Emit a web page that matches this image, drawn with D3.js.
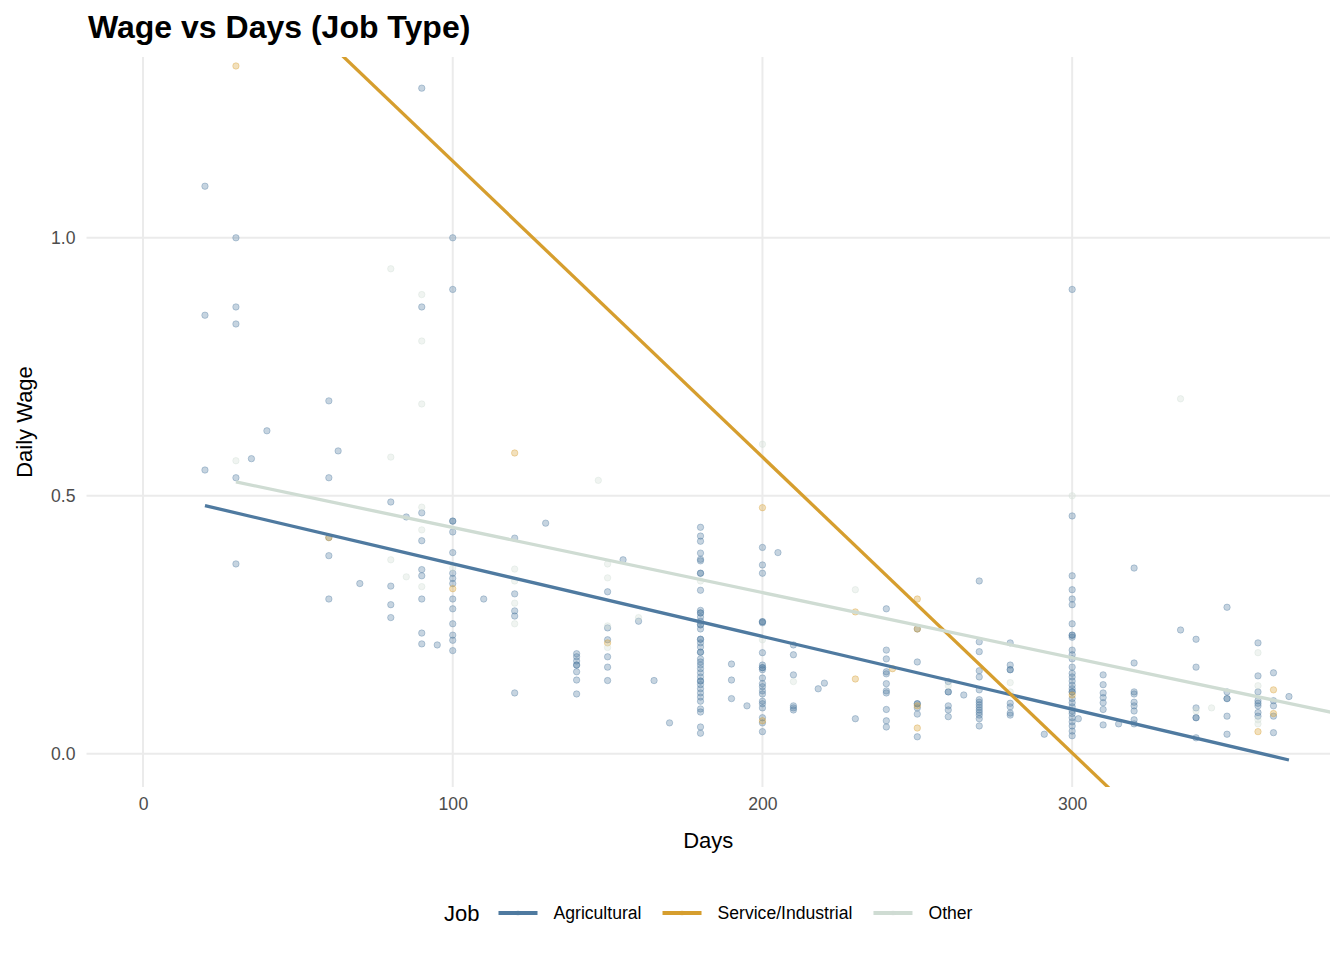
<!DOCTYPE html>
<html>
<head>
<meta charset="utf-8">
<script src="https://cdn.jsdelivr.net/npm/d3@7"></script>
<style>
  body { margin: 0; background: #fff; }
  svg { font-family: "Liberation Sans", Arial, sans-serif; }
</style>
</head>
<body>
<svg id="chart" width="1344" height="960"></svg>
<script>
// job groups, in legend order
const jobs = ["Agricultural", "Service/Industrial", "Other"];
const jobColors = ["#4f7aa0", "#d69e2e", "#cfdcd3"];

// [days, daily wage]
const agriPoints = [
  [90,1.29],[20,1.10],[30,1.0],[100,1.0],[20,0.85],[30,0.866],[30,0.833],[100,0.9],[300,0.9],[90,0.866],
  [40,0.626],[60,0.684],[63,0.587],[20,0.55],[35,0.572],[60,0.535],[30,0.535],[300,0.461],
  [80,0.488],[85,0.459],[90,0.467],[100,0.451],[100,0.451],[100,0.43],[90,0.413],[60,0.419],[100,0.39],
  [60,0.384],[30,0.368],[100,0.35],[100,0.34],[100,0.33],[70,0.33],[80,0.325],[90,0.357],[90,0.345],
  [60,0.30],[90,0.30],[100,0.30],[100,0.281],[80,0.289],[80,0.264],[100,0.252],[90,0.234],[100,0.23],
  [100,0.22],[90,0.213],[95,0.211],[100,0.20],
  [130,0.447],[120,0.418],[110,0.30],[120,0.31],[120,0.277],[120,0.267],[120,0.118],
  [140,0.194],[140,0.188],[140,0.18],[140,0.172],[140,0.172],[140,0.159],[140,0.143],[140,0.116],
  [150,0.314],[155,0.376],[150,0.244],[150,0.221],[150,0.188],[150,0.168],[150,0.142],
  [160,0.257],[165,0.142],[170,0.06],
  [180,0.439],[180,0.422],[180,0.412],[180,0.389],[180,0.377],[180,0.374],[180,0.35],[180,0.35],
  [180,0.317],[180,0.278],[180,0.273],[180,0.273],[180,0.265],[180,0.257],[180,0.25],[180,0.25],
  [180,0.242],[180,0.222],[180,0.222],[180,0.215],[180,0.207],[180,0.197],[180,0.197],[180,0.184],
  [180,0.178],[180,0.172],[180,0.165],[180,0.157],[180,0.149],[180,0.141],[180,0.141],[180,0.134],
  [180,0.126],[180,0.118],[180,0.110],[180,0.102],[180,0.087],[180,0.081],[180,0.052],[180,0.040],
  [190,0.174],[190,0.143],[190,0.107],[195,0.093],
  [200,0.40],[200,0.366],[200,0.35],[200,0.256],[200,0.256],[200,0.254],[200,0.196],[200,0.172],
  [200,0.167],[200,0.167],[200,0.163],[200,0.147],[200,0.136],[200,0.13],[200,0.122],[200,0.116],
  [200,0.102],[200,0.097],[200,0.089],[200,0.07],[200,0.06],[200,0.043],
  [205,0.39],
  [210,0.211],[210,0.192],[210,0.153],[210,0.093],[210,0.089],[210,0.085],
  [218,0.126],[220,0.137],[230,0.068],
  [240,0.281],[240,0.201],[240,0.184],[240,0.159],[240,0.155],[240,0.136],[240,0.122],[240,0.118],
  [240,0.086],[240,0.064],[240,0.052],
  [250,0.242],[250,0.178],[250,0.097],[250,0.097],[250,0.089],[250,0.077],[250,0.033],
  [260,0.14],[260,0.12],[260,0.12],[260,0.093],[260,0.085],[260,0.072],[265,0.114],
  [270,0.335],[270,0.217],[270,0.198],[270,0.161],[270,0.149],[270,0.124],[270,0.105],[270,0.1],
  [270,0.095],[270,0.09],[270,0.085],[270,0.08],[270,0.075],[270,0.068],[270,0.054],
  [280,0.215],[280,0.172],[280,0.163],[280,0.163],[280,0.098],[280,0.091],[280,0.079],[280,0.075],
  [291,0.038],
  [300,0.345],[300,0.318],[300,0.30],[300,0.289],[300,0.252],[300,0.23],[300,0.23],[300,0.226],
  [300,0.201],[300,0.192],[300,0.184],[300,0.168],[300,0.156],[300,0.149],[300,0.141],[300,0.133],
  [300,0.126],[300,0.12],[300,0.12],[300,0.107],[300,0.099],[300,0.091],[300,0.083],[300,0.078],
  [300,0.07],[300,0.062],[300,0.054],[300,0.044],[300,0.035],
  [302,0.068],
  [310,0.153],[310,0.134],[310,0.118],[310,0.109],[310,0.099],[310,0.086],[310,0.056],[315,0.058],
  [320,0.36],[320,0.176],[320,0.12],[320,0.116],[320,0.1],[320,0.093],[320,0.083],[320,0.066],[320,0.058],
  [335,0.24],
  [340,0.222],[340,0.168],[340,0.089],[340,0.07],[340,0.07],[340,0.031],
  [350,0.284],[350,0.12],[350,0.107],[350,0.107],[350,0.073],[350,0.038],
  [360,0.215],[360,0.151],[360,0.12],[360,0.103],[360,0.098],[360,0.093],[360,0.08],[360,0.073],
  [365,0.157],[365,0.103],[365,0.093],[365,0.073],[365,0.041],
  [370,0.111]
];

const servicePoints = [
  [30,1.333],[120,0.583],[200,0.477],[60,0.419],[100,0.32],[150,0.215],[200,0.064],[230,0.275],
  [230,0.145],[242,0.165],[250,0.30],[250,0.242],[250,0.093],[250,0.05],[300,0.114],[360,0.043],
  [365,0.124],[365,0.078]
];

const otherPoints = [
  [80,0.94],[90,0.89],[90,0.80],[90,0.678],[30,0.568],[80,0.575],[147,0.53],[200,0.60],[335,0.688],
  [300,0.50],[90,0.478],[90,0.434],[80,0.376],[100,0.36],[85,0.343],[90,0.324],[120,0.358],
  [120,0.335],[120,0.292],[120,0.252],[150,0.368],[150,0.341],[150,0.248],[150,0.206],[160,0.264],
  [180,0.335],[200,0.221],[210,0.14],[230,0.318],[260,0.132],[280,0.138],[280,0.12],[340,0.083],
  [345,0.089],[360,0.196],[360,0.132],[360,0.066],[360,0.058]
];

// fitted lm lines, [start, end] as [days, wage]
const agriTrend = [[20,0.481],[370,-0.012]];
const serviceTrend = [[30,1.55],[365,-0.371]];
const otherTrend = [[30,0.527],[400,0.06]];

const xTicks = [0, 100, 200, 300];
const yTicks = [0.0, 0.5, 1.0];

const svg = d3.select('#chart');
const m = {left: 86.5, right: 1330, top: 57, bottom: 787};

const x = d3.scaleLinear().domain([-18.25, 383.25]).range([m.left, m.right]);
const y = d3.scaleLinear().domain([-0.0643, 1.3504]).range([m.bottom, m.top]);
const col = d3.scaleOrdinal().domain(jobs).range(jobColors);

svg.append('defs').append('clipPath').attr('id', 'panel')
  .append('rect')
  .attr('x', m.left).attr('y', m.top)
  .attr('width', m.right - m.left).attr('height', m.bottom - m.top);

// grid
const grid = svg.append('g');
grid.selectAll('line.gx')
  .data(xTicks)
  .enter()
  .append('line')
  .attr('x1', d => x(d)).attr('x2', d => x(d))
  .attr('y1', m.top).attr('y2', m.bottom)
  .attr('stroke', '#ebebeb').attr('stroke-width', 2);
grid.selectAll('line.gy')
  .data(yTicks)
  .enter()
  .append('line')
  .attr('x1', m.left).attr('x2', m.right)
  .attr('y1', d => y(d)).attr('y2', d => y(d))
  .attr('stroke', '#ebebeb').attr('stroke-width', 2);

// tick labels via axes, domain path and ticks hidden
const xAxis = svg.append('g')
  .attr('transform', `translate(0,${m.bottom})`)
  .call(d3.axisBottom(x).tickValues(xTicks).tickSize(0).tickPadding(11));
const yAxis = svg.append('g')
  .attr('transform', `translate(${m.left},0)`)
  .call(d3.axisLeft(y).tickValues(yTicks).tickFormat(d3.format('.1f')).tickSize(0).tickPadding(11));
[xAxis, yAxis].forEach(a => {
  a.select('.domain').remove();
  a.selectAll('text')
    .style('font-family', '"Liberation Sans", Arial, sans-serif')
    .style('font-size', '17.6px')
    .attr('fill', '#4d4d4d');
});

const plot = svg.append('g').attr('clip-path', 'url(#panel)');

const groups = [
  {job: 'Agricultural', pts: agriPoints, trend: agriTrend},
  {job: 'Service/Industrial', pts: servicePoints, trend: serviceTrend},
  {job: 'Other', pts: otherPoints, trend: otherTrend}
];

groups.forEach(g => {
  plot.append('g')
    .selectAll('circle')
    .data(g.pts)
    .enter()
    .append('circle')
    .attr('cx', d => x(d[0]))
    .attr('cy', d => y(d[1]))
    .attr('r', 3.2)
    .attr('fill', col(g.job))
    .attr('fill-opacity', 0.32)
    .attr('stroke', col(g.job))
    .attr('stroke-opacity', 0.35)
    .attr('stroke-width', 1);
});

const line = d3.line().x(d => x(d[0])).y(d => y(d[1]));
groups.forEach(g => {
  plot.append('path')
    .datum(g.trend)
    .attr('d', line)
    .attr('fill', 'none')
    .attr('stroke', col(g.job))
    .attr('stroke-width', 3.3);
});

// titles
svg.append('text')
  .attr('x', 88).attr('y', 38)
  .style('font-size', '32px').style('font-weight', 'bold')
  .attr('fill', '#000')
  .text('Wage vs Days (Job Type)');

svg.append('text')
  .attr('x', (m.left + m.right) / 2).attr('y', 848)
  .attr('text-anchor', 'middle')
  .style('font-size', '22px')
  .text('Days');

svg.append('text')
  .attr('transform', `translate(32,${(m.top + m.bottom) / 2}) rotate(-90)`)
  .attr('text-anchor', 'middle')
  .style('font-size', '22px')
  .text('Daily Wage');

// legend
const leg = svg.append('g');
const legY = 913;
const legTitle = leg.append('text')
  .attr('x', 0).attr('y', legY + 8)
  .style('font-size', '22px')
  .text('Job');
let cx = legTitle.node().getComputedTextLength() + 19;
jobs.forEach(j => {
  leg.append('line')
    .attr('x1', cx).attr('x2', cx + 39)
    .attr('y1', legY).attr('y2', legY)
    .attr('stroke', col(j)).attr('stroke-width', 4);
  leg.append('circle')
    .attr('cx', cx + 19.5).attr('cy', legY).attr('r', 2.5)
    .attr('fill', col(j)).attr('fill-opacity', 0.3);
  const t = leg.append('text')
    .attr('x', cx + 55).attr('y', legY + 6)
    .style('font-size', '17.6px')
    .text(j);
  cx += 55 + t.node().getComputedTextLength() + 21;
});
const legW = cx - 21;
leg.attr('transform', `translate(${(m.left + m.right) / 2 - legW / 2},0)`);
</script>
</body>
</html>
